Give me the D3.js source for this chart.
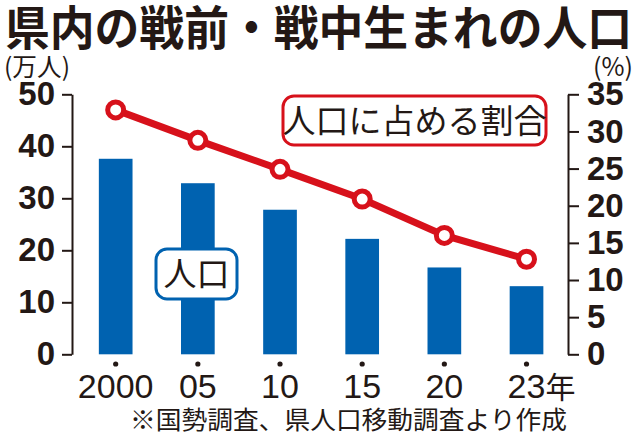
<!DOCTYPE html>
<html>
<head>
<meta charset="utf-8">
<script src="https://cdn.jsdelivr.net/npm/d3@7"></script>
<style>
  body { margin: 0; background: #fff; }
  svg { display: block; }
</style>
</head>
<body>
<svg id="chart" width="640" height="439"></svg>
<script>
const years = ["2000", "05", "10", "15", "20", "23"];
const population = [37.6, 32.9, 27.8, 22.2, 16.7, 13.1];   // 万人
const share = [32.9, 28.8, 24.9, 20.9, 16.0, 12.8];        // %
const leftTicks = [0, 10, 20, 30, 40, 50];
const rightTicks = [0, 5, 10, 15, 20, 25, 30, 35];

const ink = "#231815";
const blue = "#0062b0";
const red = "#d7111b";
const numFont = "'Liberation Sans Narrow', 'Liberation Sans', Arial, sans-serif";
const jpFont = "'Noto Sans CJK JP', sans-serif";

const svg = d3.select("#chart");

const x = d3.scaleBand()
    .domain(years)
    .range([74.6, 567.6])
    .paddingInner(0.59)
    .paddingOuter(0.295);

const yL = d3.scaleLinear().domain([0, 50]).range([354.3, 94.3]);
const yR = d3.scaleLinear().domain([0, 35]).range([354.3, 94.3]);

// title
svg.append("text")
    .attr("x", 5).attr("y", 45)
    .attr("textLength", 627).attr("lengthAdjust", "spacingAndGlyphs")
    .attr("font-family", jpFont).attr("font-weight", "bold")
    .attr("font-size", 47).attr("fill", ink)
    .text("県内の戦前・戦中生まれの人口");

// unit labels
svg.append("text")
    .attr("x", 4).attr("y", 76)
    .attr("textLength", 66).attr("lengthAdjust", "spacingAndGlyphs")
    .attr("font-family", jpFont).attr("font-size", 25).attr("fill", ink)
    .text("(万人)");
svg.append("text")
    .attr("x", 633).attr("y", 76).attr("text-anchor", "end")
    .attr("font-family", jpFont).attr("font-size", 25).attr("fill", ink)
    .text("(%)");

// bars
svg.append("g").selectAll("rect")
    .data(population)
    .join("rect")
    .attr("x", (d, i) => x(years[i]))
    .attr("y", d => yL(d))
    .attr("width", x.bandwidth())
    .attr("height", d => yL(0) - yL(d))
    .attr("fill", blue);

// axes
function styleAxis(g) {
    g.select(".domain").attr("stroke", ink).attr("stroke-width", 2);
    g.selectAll(".tick line").attr("stroke", ink).attr("stroke-width", 2);
    g.selectAll(".tick text")
        .attr("fill", ink)
        .attr("font-family", numFont)
        .attr("font-weight", "bold")
        .attr("font-size", 33);
}

svg.append("g")
    .attr("transform", "translate(72,0)")
    .call(d3.axisLeft(yL).tickValues(leftTicks).tickSize(10).tickSizeOuter(0).tickPadding(7))
    .call(styleAxis);

svg.append("g")
    .attr("transform", "translate(568,0)")
    .call(d3.axisRight(yR).tickValues(rightTicks).tickSize(11).tickSizeOuter(0).tickPadding(8))
    .call(styleAxis);

// x axis: dots and labels
const xg = svg.append("g");
xg.selectAll("circle")
    .data(years)
    .join("circle")
    .attr("cx", d => x(d) + x.bandwidth() / 2)
    .attr("cy", 364)
    .attr("r", 2.6)
    .attr("fill", ink);

const xl = xg.selectAll("text")
    .data(years)
    .join("text")
    .attr("x", d => x(d) + x.bandwidth() / 2)
    .attr("y", 398)
    .attr("text-anchor", "middle")
    .attr("font-family", numFont)
    .attr("font-size", 34)
    .attr("fill", ink)
    .text(d => d);

// last label gets 年 after the number, number stays centred
xl.filter((d, i) => i === years.length - 1).each(function (d) {
    const t = d3.select(this);
    const w = this.getComputedTextLength();
    t.attr("text-anchor", "start").attr("x", x(d) + x.bandwidth() / 2 - w / 2);
    t.append("tspan").attr("font-family", jpFont).attr("font-size", 30).text("年");
});

// share line
const line = d3.line()
    .x((d, i) => x(years[i]) + x.bandwidth() / 2)
    .y(d => yR(d));

svg.append("path")
    .datum(share)
    .attr("fill", "none")
    .attr("stroke", red)
    .attr("stroke-width", 7)
    .attr("d", line);

svg.append("g").selectAll("circle")
    .data(share)
    .join("circle")
    .attr("cx", (d, i) => x(years[i]) + x.bandwidth() / 2)
    .attr("cy", d => yR(d))
    .attr("r", 8)
    .attr("fill", "#fff")
    .attr("stroke", red)
    .attr("stroke-width", 5);

// series labels
function labelBox(x0, y0, w, h, color, text) {
    const g = svg.append("g");
    g.append("rect")
        .attr("x", x0).attr("y", y0).attr("width", w).attr("height", h)
        .attr("rx", 11).attr("fill", "#fff")
        .attr("stroke", color).attr("stroke-width", 3);
    g.append("text")
        .attr("x", x0 + w / 2).attr("y", y0 + h / 2 + 12)
        .attr("text-anchor", "middle")
        .attr("font-family", jpFont).attr("font-size", 33).attr("fill", ink)
        .text(text);
}
labelBox(283, 96, 263, 49, red, "人口に占める割合");
labelBox(156, 249, 81, 50, blue, "人口");

// source note
svg.append("text")
    .attr("x", 130).attr("y", 429)
    .attr("textLength", 437).attr("lengthAdjust", "spacingAndGlyphs")
    .attr("font-family", jpFont).attr("font-size", 25).attr("fill", ink)
    .text("※国勢調査、県人口移動調査より作成");
</script>
</body>
</html>
